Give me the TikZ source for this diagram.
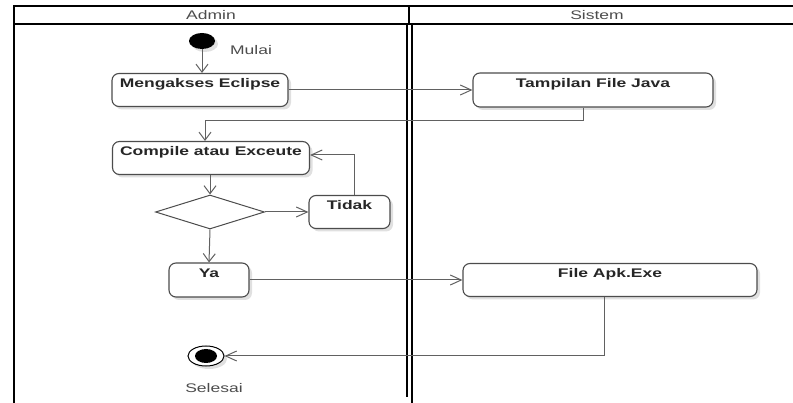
\documentclass[tikz,border=0pt]{standalone}
\usepackage{fontspec}
\setmainfont{Liberation Sans}[FakeStretch=1.4]
\usetikzlibrary{arrows.meta,shapes.geometric,shadows}

\tikzset{
  lane/.style={draw=black, line width=1.8pt},
  act/.style={draw=black!70, line width=1.1pt, rounded corners=7pt, fill=white,
    drop shadow={shadow xshift=3pt, shadow yshift=-3pt, opacity=0.12, fill=black}},
  lbl/.style={anchor=base, yshift=-15pt, inner sep=0pt, text=black!85,
    font=\fontsize{12.5pt}{14pt}\selectfont\bfseries},
  txt/.style={inner sep=0pt, text=black!70, font=\fontsize{12.5pt}{14pt}\selectfont},
  line/.style={draw=black!62, line width=1pt},
  hflow/.style={line, -{Straight Barb[length=11pt,width=10pt,line width=1pt]}},
  vflow/.style={line, -{Straight Barb[length=8pt,width=12pt,line width=1pt]}},
}

\begin{document}
\begin{tikzpicture}[x=1pt,y=-1pt, label distance=0pt]
\useasboundingbox (0,0) rectangle (793,403);

% swimlane frame
\draw[lane] (14,6) -- (793,6);
\draw[lane] (14,24) -- (793,24);
\draw[lane, line width=2.6pt] (14,5.1) -- (14,403);
\draw[lane] (409,6) -- (409,24);
\draw[lane] (407,24) -- (407,397);
\draw[lane] (412,24) -- (412,403);

\node[txt, anchor=base] (hadmin) at (211,19.5) {Admin};
\node[txt, anchor=base] (hsistem) at (597,19.5) {Sistem};

% start and end
\node[ellipse, fill=black, minimum width=26pt, minimum height=16pt, inner sep=0pt,
  drop shadow={shadow xshift=3pt, shadow yshift=-3pt, opacity=0.12, fill=black}] (st) at (202,41) {};
\node[txt, anchor=base] (mulai) at (251,55) {Mulai};

\node[ellipse, draw=black, line width=1pt, fill=white, minimum width=36pt, minimum height=20pt, inner sep=0pt,
  drop shadow={shadow xshift=3pt, shadow yshift=-3pt, opacity=0.12, fill=black}] (en) at (206,356) {};
\node[ellipse, fill=black, minimum width=22pt, minimum height=14pt, inner sep=0pt] (endot) at (en.center) {};
\node[txt, anchor=base] (selesai) at (214,392) {Selesai};

% actions
\node[act, minimum width=176pt, minimum height=33pt, label={[lbl]north:Mengakses Eclipse}] (me) at (200,90) {};
\node[act, minimum width=240pt, minimum height=34pt, label={[lbl]north:Tampilan File Java}] (tf) at (593,90) {};
\node[act, minimum width=197pt, minimum height=33pt, label={[lbl]north:Compile atau Exceute}] (ce) at (211,158) {};
\node[diamond, draw=black!70, line width=1pt, fill=white, minimum width=109pt, minimum height=34pt, inner sep=0pt] (dc) at (210,212) {};
\node[act, minimum width=81pt, minimum height=33pt, label={[lbl]north:Tidak}] (td) at (349.5,212) {};
\node[act, minimum width=80pt, minimum height=34pt, label={[lbl]north:Ya}] (ya) at (209,280) {};
\node[act, minimum width=294pt, minimum height=33pt, label={[lbl]north:File Apk.Exe}] (fa) at (610,280) {};

\coordinate (k1) at (583,121);
\coordinate (k2) at (604,356);

% flows
\draw[vflow] (st.south) -- (st.south |- me.north);
\draw[hflow] (me.east) -- (tf.west);
\draw[vflow] (tf.south -| k1) -- (k1) -| ([xshift=-6pt]ce.north);
\draw[vflow] (ce.south -| dc.north) -- (dc.north);
\draw[hflow] (dc.east) -- (td.west);
\draw[hflow] ([xshift=5pt]td.north) |- ([yshift=3pt]ce.east);
\draw[vflow] (dc.south) -- (ya.north);
\draw[hflow] (ya.east) -- (fa.west);
\draw[hflow] (fa.south -| k2) -- (k2) -- (en.east);
\end{tikzpicture}
\end{document}
